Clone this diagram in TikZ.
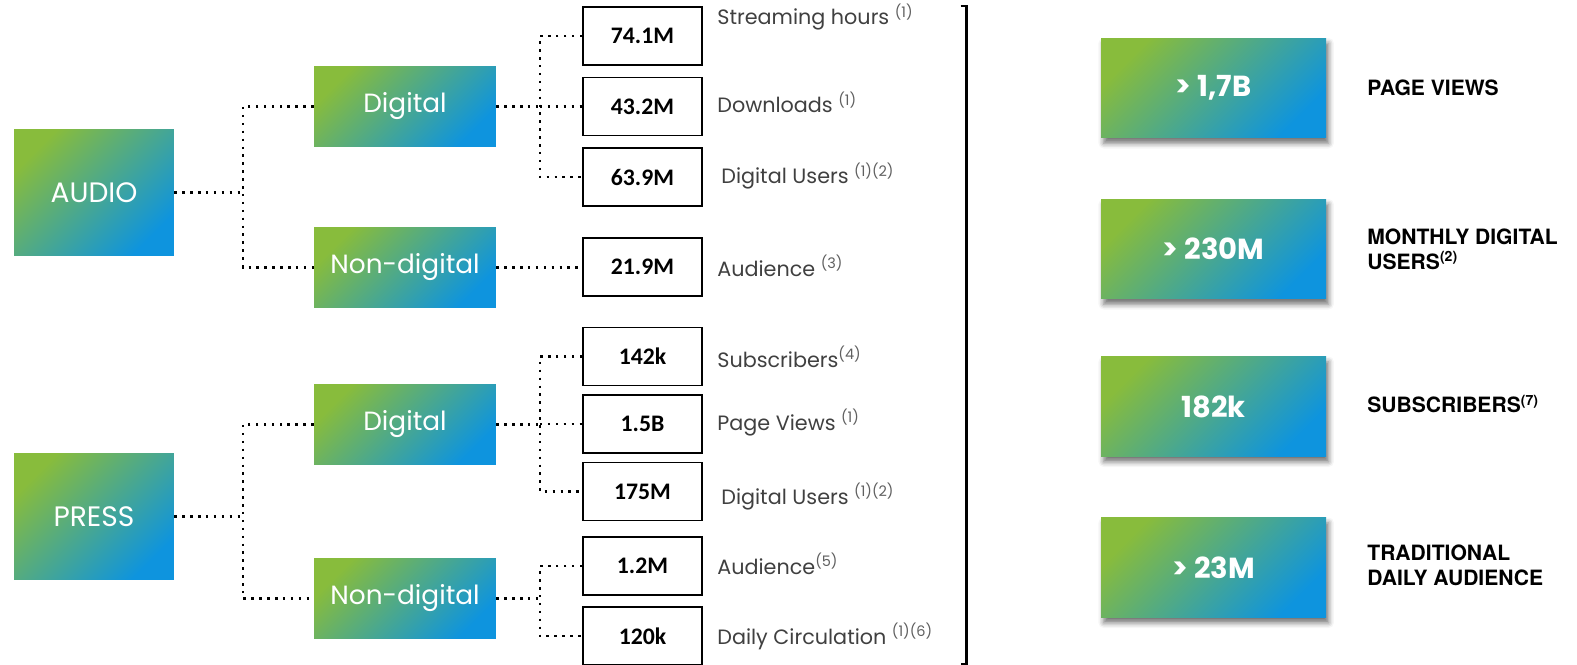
\documentclass[tikz,border=0pt]{standalone}
\usepackage{fontspec}
\setmainfont{Poppins}
\newfontfamily\numfont{Carlito}
\newfontfamily\headfont{TeX Gyre Heros}
\usepackage{tikz}
\usetikzlibrary{positioning,shadows,shadows.blur}
\usepackage{xcolor}
\definecolor{mgreen}{RGB}{136,188,60}
\definecolor{mblue}{RGB}{14,148,222}
\definecolor{mgray}{RGB}{64,64,64}
\definecolor{mlightgray}{RGB}{96,96,96}
\tikzstyle{gradbox} = [rectangle, inner sep=0pt, text=white, top color=mgreen, bottom color=mblue, shading angle=45]
\tikzstyle{catbox} = [gradbox, minimum width=3.2cm, minimum height=2.54cm, font=\fontsize{16}{18}\selectfont]
\tikzstyle{subbox} = [gradbox, minimum width=3.64cm, minimum height=1.62cm, font=\fontsize{15}{18}\selectfont]
\tikzstyle{valbox} = [rectangle, draw=black, line width=1pt, minimum width=2.38cm, minimum height=1.16cm, font=\numfont\bfseries\fontsize{13.5}{15}\selectfont]
\tikzstyle{totbox} = [gradbox, minimum width=4.5cm, minimum height=2cm, font=\bfseries\fontsize{16.5}{18}\selectfont, blur shadow={shadow xshift=1.5pt, shadow yshift=-3pt, shadow blur radius=3pt, shadow opacity=55}]
\tikzstyle{metric} = [anchor=base west, inner sep=0pt, text=mgray, font=\fontsize{11.8}{13}\selectfont]
\tikzstyle{totlabel} = [anchor=west, inner sep=0pt, align=left, font=\headfont\bfseries\fontsize{12}{14.2}\selectfont]
\tikzstyle{dotline} = [line width=1.4pt, dash pattern=on 1.4pt off 3.1pt]
\newcommand{\refmark}[1]{\textcolor{mlightgray}{\textsuperscript{(#1)}}}

\begin{document}
\begin{tikzpicture}[x=0.02cm, y=-0.02cm]
\useasboundingbox (0,0) rectangle (1577,665);

% Audio branch
\node[catbox] (audio) at (94,192.5) {AUDIO};
\node[subbox] (adig) at (405,106.5) {Digital};
\node[subbox] (anon) at (405,267.5) {Non-digital};

% Press branch
\node[catbox] (press) at (94,516.5) {PRESS};
\node[subbox] (pdig) at (405,424.5) {Digital};
\node[subbox] (pnon) at (405,598.5) {Non-digital};

% Figures
\node[valbox] (v1) at (642.5,36) {74.1M};
\node[valbox] (v2) at (642.5,106.5) {43.2M};
\node[valbox] (v3) at (642.5,177) {63.9M};
\node[valbox] (v4) at (642.5,267) {21.9M};
\node[valbox] (v5) at (642.5,356.5) {142k};
\node[valbox] (v6) at (642.5,424) {1.5B};
\node[valbox] (v7) at (642.5,491.5) {175M};
\node[valbox] (v8) at (642.5,566) {1.2M};
\node[valbox] (v9) at (642.5,636) {120k};

% Metric names
\node[metric] (m1) at (717,25) {Streaming hours \refmark{1}};
\node[metric] (m2) at (717,113) {Downloads \refmark{1}};
\node[metric] (m3) at (721,184) {Digital Users \refmark{1)(2}};
\node[metric] (m4) at (717,276) {Audience \refmark{3}};
\node[metric] (m5) at (717,367) {Subscribers\refmark{4}};
\node[metric] (m6) at (717,430) {Page Views \refmark{1}};
\node[metric] (m7) at (721,504) {Digital Users \refmark{1)(2}};
\node[metric] (m8) at (717,574) {Audience\refmark{5}};
\node[metric] (m9) at (717,644) {Daily Circulation \refmark{1)(6}};

% Connectors
\coordinate (ja) at (243,0);
\coordinate (jb) at (540,0);
\draw[dotline] (audio.east) -- (audio.east -| ja);
\draw[dotline] (adig.west) -- (adig.west -| ja) -- (anon.west -| ja) -- (anon.west);
\draw[dotline] (press.east) -- (press.east -| ja);
\draw[dotline] (pdig.west) -- (pdig.west -| ja) -- (pnon.west -| ja) -- (pnon.west);

\draw[dotline] (adig.east) -- (adig.east -| jb);
\draw[dotline] (v1.west) -- (v1.west -| jb) -- (v3.west -| jb) -- (v3.west);
\draw[dotline] (v2.west -| jb) -- (v2.west);
\draw[dotline] (anon.east) -- (anon.east -| v4.west);
\draw[dotline] (pdig.east) -- (pdig.east -| jb);
\draw[dotline] (v5.west) -- (v5.west -| jb) -- (v7.west -| jb) -- (v7.west);
\draw[dotline] (v6.west -| jb) -- (v6.west);
\draw[dotline] (pnon.east) -- (pnon.east -| jb);
\draw[dotline] (v8.west) -- (v8.west -| jb) -- (v9.west -| jb) -- (v9.west);

% Bracket
\coordinate (brtop) at (966,6);
\coordinate (brbot) at (966,664);
\draw[line width=1.7pt] ([xshift=-3pt]brtop) -- (brtop) -- (brbot) -- ([xshift=-3pt]brbot);

% Totals
\node[totbox] (t1) at (1213.5,88) {> 1,7B};
\node[totbox] (t2) at (1213.5,249) {> 230M};
\node[totbox] (t3) at (1213.5,406.5) {182k};
\node[totbox] (t4) at (1213.5,567.5) {> 23M};

\node[totlabel] (l1) at (1367,88) {PAGE VIEWS};
\node[totlabel] (l2) at (1367,249) {MONTHLY DIGITAL\\USERS\textsuperscript{(2)}};
\node[totlabel] (l3) at (1367,404) {SUBSCRIBERS\textsuperscript{(7)}};
\node[totlabel] (l4) at (1367,565) {TRADITIONAL\\DAILY AUDIENCE};
\end{tikzpicture}
\end{document}
